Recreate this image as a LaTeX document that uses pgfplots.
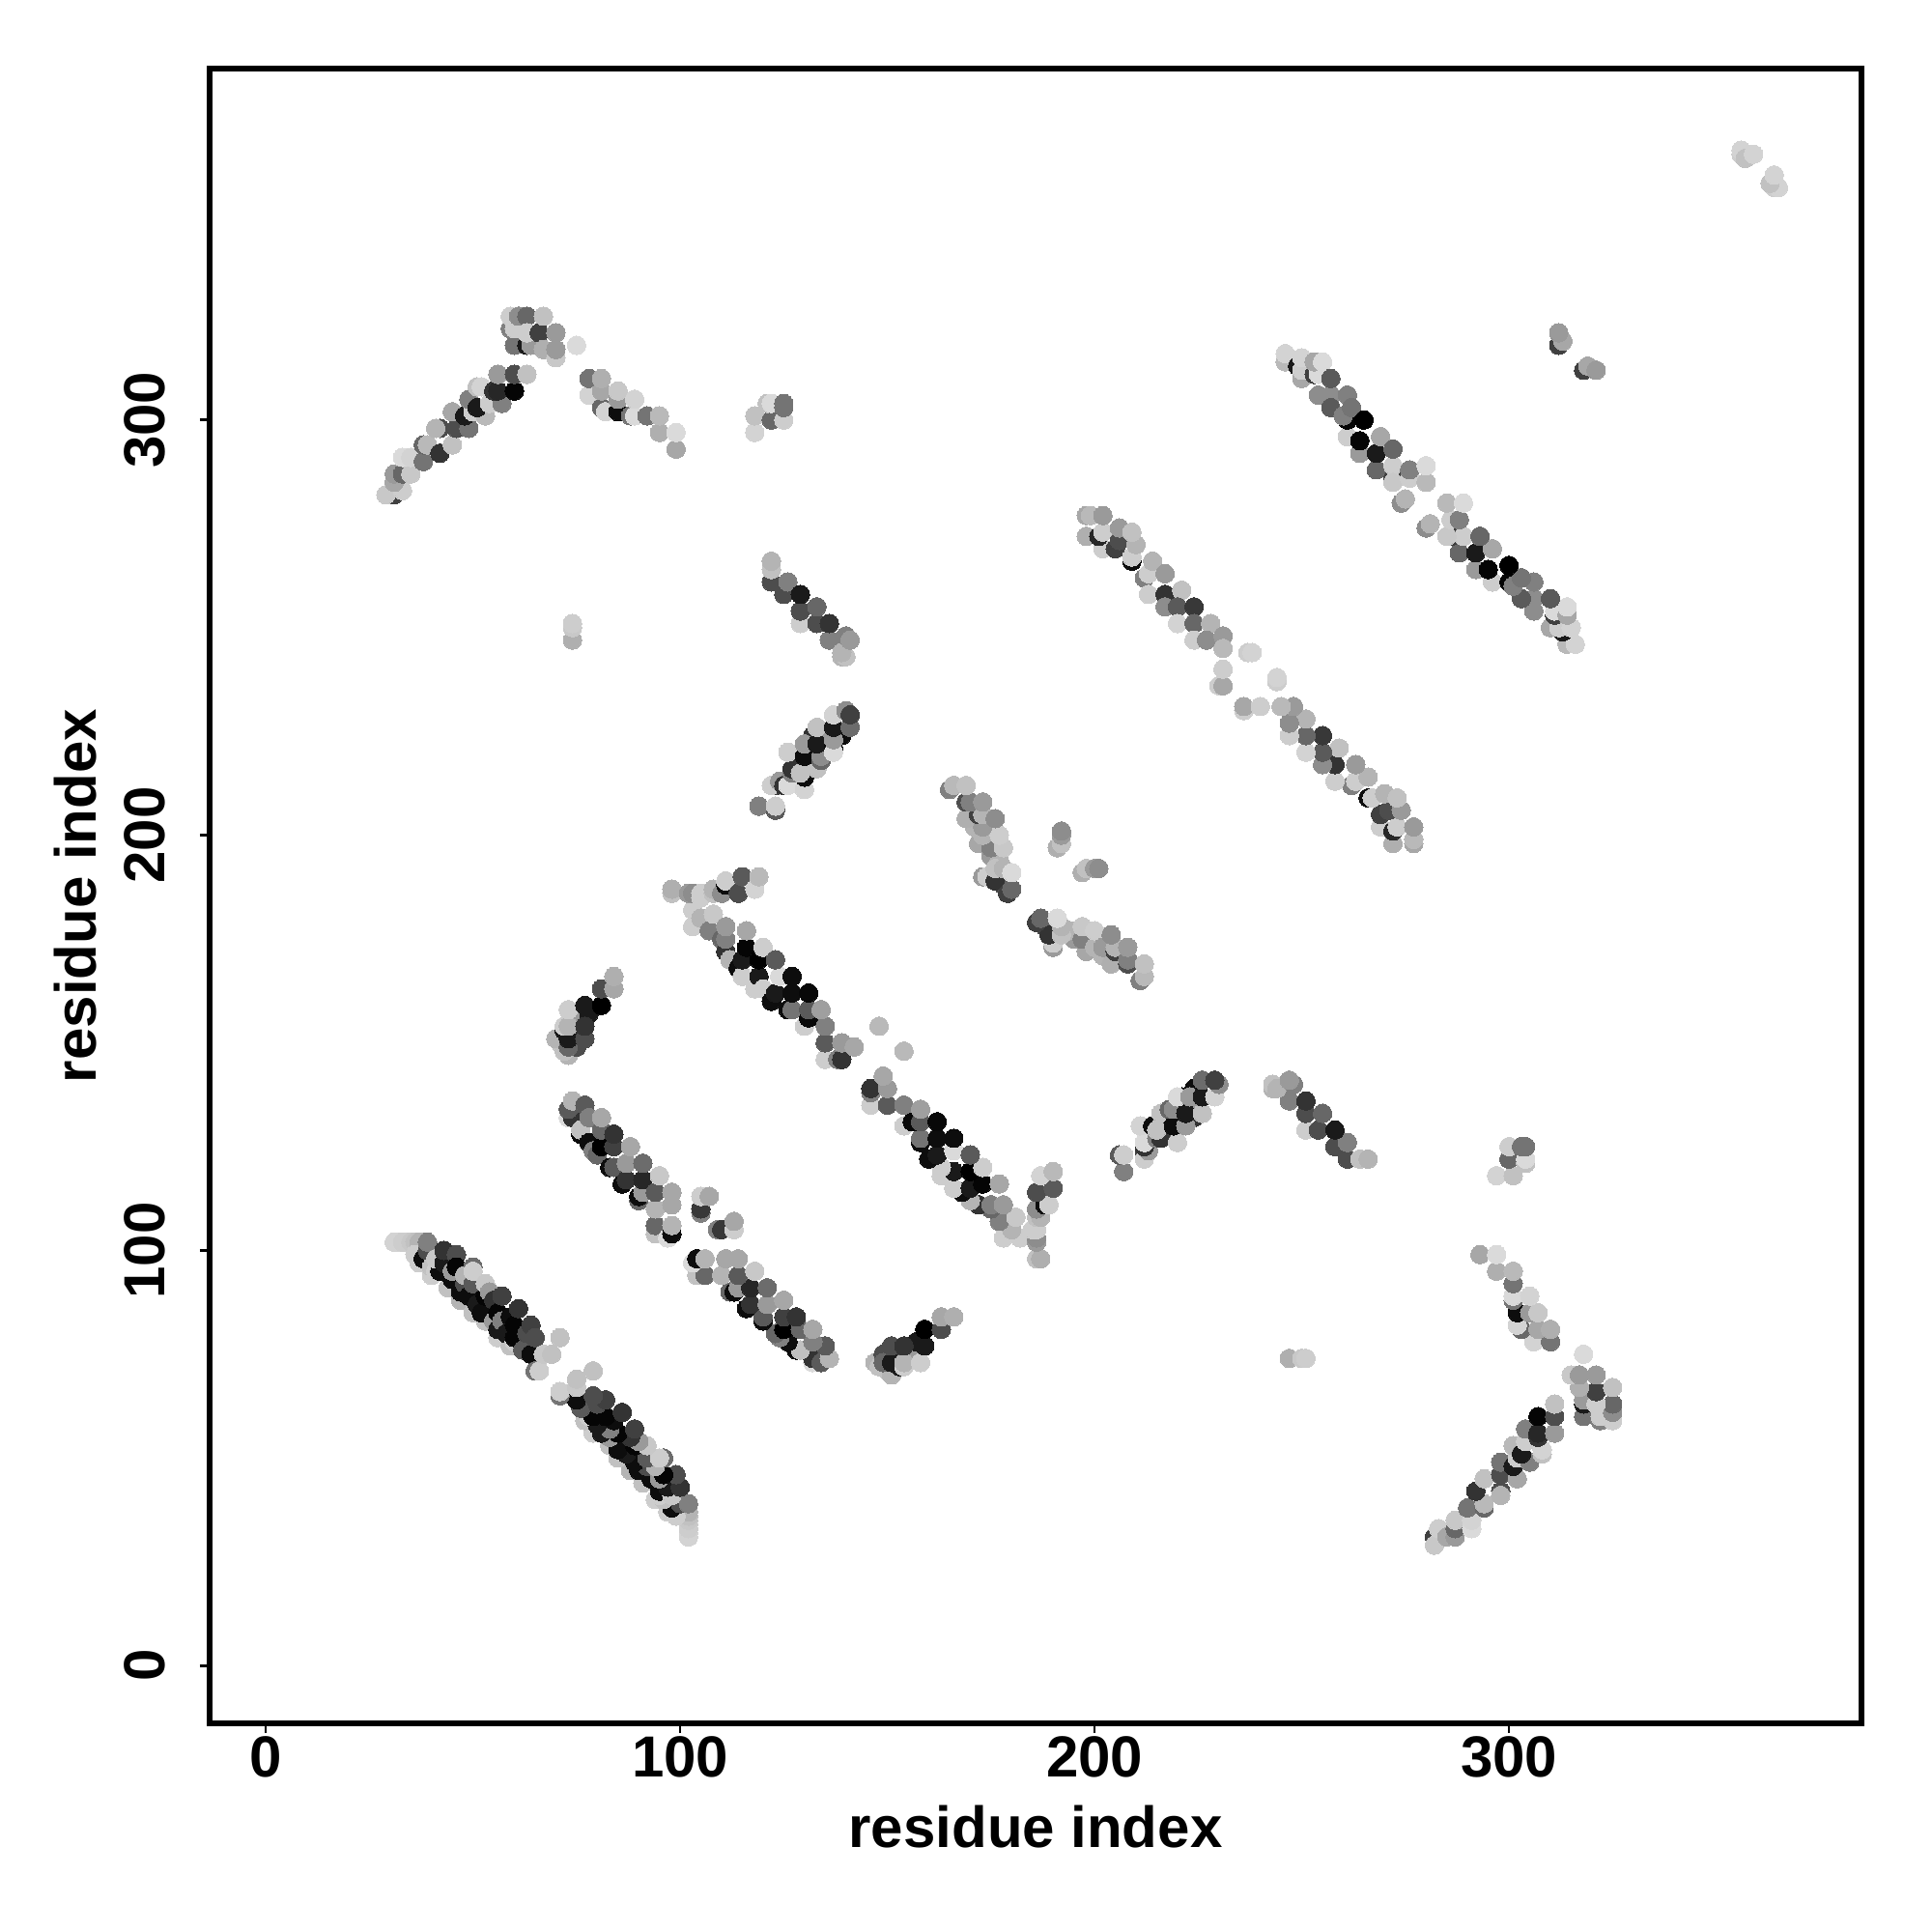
\documentclass[border=0pt]{standalone}
\usepackage{fontspec}
\setmainfont{Liberation Sans}
\usepackage{pgfplots}
\usepackage{pgfplotstable}
\pgfplotsset{compat=1.18}
\pgfplotstableread{
x y g
37 97 .8
40 94 .8
44 91 .75
47 88 .7
50 85 .75
53 83 .75
56 79 .8
59 77 .75
71 150 .75
73 147 .7
75 149 .3
75 153 .2
75 156 .6
78 157 .1
128 218 .3
128 213 .1
131 217 .1
135 220 .1
132 224 .2
135 224 .6
139 224 .05
178 188 .3
177 190 .35
171 202 .7
172 198 .65
175 195 .6
177 194 .7
31 282 .25
31 102 .82
32 102 .82
33 102 .8
34 102 .8
35 102 .78
36 102 .75
37 102 .7
36 99 .8
38 98 .05
39 100 .3
39 102 .5
40 96 .75
41 95 .8
42 95 .05
41 98 .78
43 97 .1
43 100 .2
45 92 .75
45 93 .05
45 95 .6
46 99 .3
46 96 .02
47 90 .05
48 92 .3
49 89 .05
48 94 .7
50 92 .35
50 96 .42
50 95 .8
51 87 .1
52 85 .05
53 89 .02
53 92 .78
54 90 .6
55 83 .6
55 88 .2
56 81 .1
56 85 .02
57 89 .25
57 83 .5
58 80 .1
59 84 .05
60 78 .8
60 82 .02
61 86 .2
60 79 .02
62 76 .35
64 75 .05
63 80 .3
64 82 .25
65 79 .3
65 71 .45
66 71 .8
67 75 .78
69 75 .75
71 79 .75
73 132 .85
74 132 .2
73 134 .35
74 136 .7
76 128 .05
76 129 .75
77 135 .35
78 126 .05
78 132 .5
79 124 .5
80 123 .4
81 125 0
81 129 .4
81 132 .65
83 120 .05
84 120 .35
84 125 .25
84 128 .2
86 116 .05
87 117 .2
87 121 .6
88 125 .65
90 112 .4
90 113 .05
91 114 .6
91 117 .15
91 121 .42
94 104 .75
94 106 .4
94 110 .7
94 114 .35
95 118 .78
97 103 .85
98 104 .05
98 106 .7
98 111 .65
98 114 .65
105 109 .5
105 110 .22
105 113 .8
107 113 .65
103 178 .8
103 182 .8
105 180 .7
107 177 .5
108 181 .78
110 175 .4
111 172 .2
111 175 .5
111 178 .6
112 170 .7
114 168 .05
115 166 .8
115 170 .1
116 173 .02
116 177 .65
118 163 .8
119 166 .1
119 170 0
120 173 .8
120 163 .8
122 160 .05
123 162 .1
124 166 .85
123 170 .35
126 158 .05
127 158 .45
127 162 .05
127 166 .05
130 154 .8
131 156 .03
131 158 .35
131 162 .03
135 146 .8
135 150 .35
135 154 .5
134 158 .62
138 146 .5
139 146 .2
139 150 .6
142 149 .65
148 154 .72
98 186 .75
98 187 .68
102 186 .6
103 186 .55
105 185 .8
105 186 .8
108 186 .75
108 187 .7
110 186 .55
111 188 .05
111 189 .8
114 186 .3
115 190 .35
118 187 .82
119 190 .72
198 272 .68
198 277 .65
199 277 .72
202 269 .8
201 272 .15
202 273 .8
202 277 .6
205 269 .25
206 271 .3
206 274 .6
209 266 .05
209 267 .8
210 270 .7
209 273 .75
212 262 .5
213 263 .8
214 266 .7
217 263 .6
213 258 .8
217 258 .2
221 259 .75
217 255 .55
220 255 .35
224 255 .22
220 251 .82
224 251 .4
228 251 .7
224 247 .8
227 247 .55
231 248 .6
231 245 .72
230 236 .8
231 236 .65
231 240 .8
237 244 .8
238 244 .82
246 314 .72
246 316 .82
250 310 .65
249 313 .1
250 312 .8
250 315 .82
253 311 .25
254 306 .55
254 311 .85
253 314 .65
255 314 .85
257 306 .55
257 303 .35
257 310 .35
261 296 .8
261 300 .02
260 301 .5
261 306 .5
262 303 .45
264 292 .6
264 295 .02
265 300 0
268 288 .4
268 292 .1
269 296 .65
272 286 .25
272 289 .8
272 293 .4
272 285 .78
274 280 .55
275 281 .7
276 286 .8
276 288 .5
280 285 .72
280 289 .85
312 318 .25
313 319 .65
312 321 .6
356 364 .8
356 365 .82
357 363 .75
359 364 .82
29 282 .78
33 283 .8
31 285 .65
31 287 .6
33 287 .4
35 287 .78
33 291 .85
35 291 .82
38 290 .45
38 294 .4
39 294 .72
42 292 .2
45 294 .75
42 298 .3
41 298 .7
46 298 .3
49 298 .45
45 302 .65
48 301 .1
50 302 .8
53 301 .72
49 305 .5
51 303 .1
54 304 .8
57 304 .5
51 308 .75
52 308 .82
55 307 .2
56 307 .15
60 307 .02
56 311 .6
60 311 .3
63 311 .75
60 318 .45
59 322 .5
60 322 .8
59 325 .8
61 325 .55
63 325 .4
63 318 .1
64 318 .6
63 321 .8
66 321 .25
67 317 .68
67 325 .75
70 315 .78
70 317 .6
70 321 .6
75 318 .85
78 306 .82
78 310 .45
81 303 .4
81 307 .65
81 310 .68
82 302 .82
85 302 .05
85 305 .6
85 307 .78
88 301 .45
89 301 .85
89 305 .82
92 301 .45
95 297 .68
95 301 .72
99 293 .65
99 297 .85
74 247 .68
74 250 .78
74 251 .8
118 297 .82
118 301 .75
122 300 .4
121 304 .75
125 300 .8
122 304 .85
125 303 .45
125 304 .45
122 261 .3
122 264 .75
122 266 .7
125 258 .3
126 261 .5
129 251 .8
129 254 .3
129 258 .1
133 251 .3
133 255 .4
136 247 .5
136 251 .2
139 243 .7
140 243 .75
139 244 .7
140 248 .5
141 247 .6
119 207 .5
123 206 .35
123 207 .8
123 212 .25
122 212 .8
124 213 .6
125 212 .2
126 212 .85
130 211 .82
127 215 .5
127 216 .2
126 220 .8
130 214 .05
129 215 .75
133 216 .75
130 219 .05
134 218 .4
134 219 .55
130 222 .6
133 222 .1
133 226 .75
137 221 .05
137 220 .85
137 223 .6
137 226 .1
141 226 .42
137 229 .82
140 230 .55
141 229 .25
72 148 .75
71 151 .3
70 151 .7
73 149 .4
73 151 .1
72 153 .1
72 154 .8
73 154 .7
77 151 .3
73 158 .8
77 154 .2
77 159 .1
81 159 0
81 163 .3
84 163 .65
84 166 .68
173 190 .6
174 190 .8
176 189 .2
175 197 .5
176 192 .75
179 186 .25
178 192 .7
180 187 .4
180 191 .85
178 197 .78
169 204 .68
173 200 .7
177 200 .8
173 202 .6
172 205 .25
173 205 .7
176 204 .55
169 208 .3
170 208 .5
173 208 .6
165 211 .5
166 212 .72
169 212 .75
191 197 .68
192 198 .75
192 200 .6
192 201 .55
}\contacts
\begin{document}
\begin{tikzpicture}
\path[use as bounding box] (-54.2pt,-54pt) rectangle (445.8pt,446pt);
\begin{axis}[
  at={(0,0)},anchor=south west,
  scale only axis,width=427.6pt,height=428.2pt,
  xmin=-13.6,xmax=385.1,ymin=-13.9,ymax=384.6,
  xtick={0,100,200,300},ytick={0,100,200,300},
  tick pos=left,tick align=outside,
  major tick length=2.5pt,
  every tick/.style={black,line width=.67pt},
  axis line style={line width=1.5pt,black},
  /pgf/number format/assume math mode=true,
  tick label style={font=\fontsize{15pt}{15pt}\selectfont\bfseries,inner sep=0pt},
  xticklabel style={anchor=north,yshift=-0.8pt},
  yticklabel style={rotate=90,anchor=south,yshift=8.75pt},
  label style={font=\fontsize{15pt}{15pt}\selectfont\bfseries,inner sep=0pt},
  xlabel={residue index},ylabel={residue index},
  xlabel style={at={(axis description cs:0.5,0)},anchor=center,yshift=-26.75pt},
  ylabel style={at={(axis description cs:0,0.5)},anchor=center,xshift=0pt,yshift=34.6pt},
  colormap={bw}{gray(0cm)=(0); gray(1cm)=(1)},
  point meta min=0,point meta max=1,
  clip=false,
]
\addplot[scatter,only marks,mark=*,mark size=2.4pt,point meta=explicit,
  scatter/use mapped color={draw=mapped color,fill=mapped color},
  mark options={line width=0pt}] table[x=x,y=y,meta=g] {\contacts};
\addplot[scatter,only marks,mark=*,mark size=2.4pt,point meta=explicit,
  scatter/use mapped color={draw=mapped color,fill=mapped color},
  mark options={line width=0pt}] table[x=y,y=x,meta=g] {\contacts};
\end{axis}
\end{tikzpicture}
\end{document}
